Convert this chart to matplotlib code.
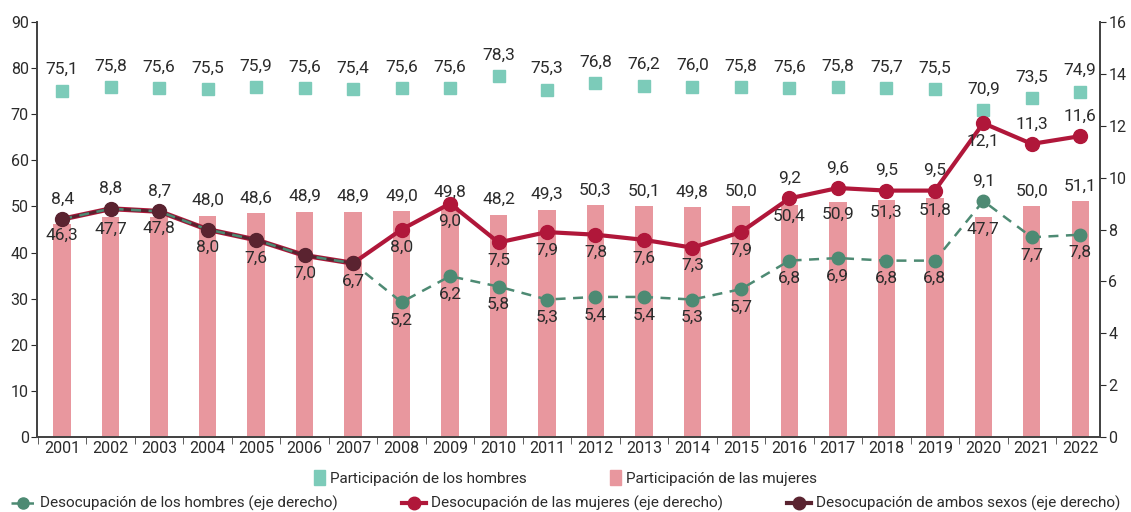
import matplotlib
matplotlib.use("Agg")
import matplotlib.pyplot as plt
from matplotlib.lines import Line2D
from matplotlib.patches import Patch
import numpy as np

plt.rcParams['font.family'] = ['Roboto', 'DejaVu Sans']

years = [str(y) for y in range(2001, 2023)]

part_mujeres = [46.3, 47.7, 47.8, 48.0, 48.6, 48.9, 48.9, 49.0, 49.8, 48.2, 49.3,
                50.3, 50.1, 49.8, 50.0, 50.4, 50.9, 51.3, 51.8, 47.7, 50.0, 51.1]
part_hombres = [75.1, 75.8, 75.6, 75.5, 75.9, 75.6, 75.4, 75.6, 75.6, 78.3, 75.3,
                76.8, 76.2, 76.0, 75.8, 75.6, 75.8, 75.7, 75.5, 70.9, 73.5, 74.9]
# 2001-2007: only total unemployment available
desoc_ambos = [8.4, 8.8, 8.7, 8.0, 7.6, 7.0, 6.7]
desoc_mujeres = [8.0, 9.0, 7.5, 7.9, 7.8, 7.6, 7.3, 7.9, 9.2, 9.6, 9.5, 9.5, 12.1, 11.3, 11.6]
desoc_hombres = [5.2, 6.2, 5.8, 5.3, 5.4, 5.4, 5.3, 5.7, 6.8, 6.9, 6.8, 6.8, 9.1, 7.7, 7.8]

# colours
c_bar = '#e8979e'
c_sq = '#7ccbb9'
c_red = '#b0173a'
c_green = '#4d8a73'
c_maroon = '#5a2330'
c_text = '#2b2b2b'


def fmt(v):
    return f"{v:.1f}".replace('.', ',')


x = np.arange(len(years))
n_a = len(desoc_ambos)
x_sex = x[n_a - 1:]
muj_line = [desoc_ambos[-1]] + desoc_mujeres

fig = plt.figure(figsize=(11.31, 5.12), dpi=100)
ax = fig.add_axes([0.0327, 0.1465, 0.94, 0.8105])
ax2 = ax.twinx()

ax.bar(x, part_mujeres, width=0.36, color=c_bar, zorder=1)
ax.plot(x, part_hombres, 's', color=c_sq, markersize=9, zorder=2)

ax2.plot(x[:n_a], desoc_ambos, '-', color=c_red, lw=3.6, zorder=3)
ax2.plot(x_sex, muj_line, '-o', color=c_red, lw=3, markersize=10, zorder=3)
ax2.plot(x[:n_a], desoc_ambos, '-', color=c_maroon, lw=2.2, zorder=4)
ax2.plot(list(x[:n_a]) + list(x_sex[1:]), desoc_ambos + desoc_hombres, '--o',
         color=c_green, lw=1.8, markersize=9, dashes=(4, 3), zorder=5)
ax2.plot(x[:n_a], desoc_ambos, 'o', color=c_maroon, markersize=10, zorder=6)

ax.set_ylim(0, 90)
ax2.set_ylim(0, 16)
ax.set_xlim(-0.52, 21.41)
ax.set_yticks(range(0, 91, 10))
ax2.set_yticks(range(0, 17, 2))

ax.set_xticks(x)
ax.set_xticklabels(years)
ax.set_xticks(x - 0.5, minor=True)
ax.tick_params(axis='x', which='major', length=0, pad=3, labelsize=11.5, colors=c_text)
ax.tick_params(axis='x', which='minor', length=5, direction='out', color='#444444')
ax.tick_params(axis='y', length=4, pad=2, labelsize=11.5, colors=c_text)
ax2.tick_params(axis='y', length=4, pad=2, labelsize=11.5, colors=c_text)

for a in (ax, ax2):
    a.spines['top'].set_visible(False)
    for s in ('left', 'right', 'bottom'):
        a.spines[s].set_color('#444444')
        a.spines[s].set_linewidth(1.3)

lab = dict(ha='center', va='center', fontsize=12.5, color=c_text,
           textcoords='offset pixels', zorder=10)

# bar labels: 'in' just under the top of the bar, 'up' above it
bar_pos = ['in'] * 3 + ['up'] * 12 + ['in'] * 5 + ['up'] * 2
for i, v in enumerate(part_mujeres):
    dy = 15 if bar_pos[i] == 'up' else -12
    ax.annotate(fmt(v), (x[i], v), xytext=(0, dy), **lab)

for i, v in enumerate(part_hombres):
    ax.annotate(fmt(v), (x[i], v), xytext=(0, 21), **lab)

amb_pos = ['up'] * 3 + ['dn'] * 4
muj_pos = ['dn'] * 8 + ['up'] * 4 + ['dn'] + ['up'] * 2
hom_pos = ['dn'] * 12 + ['up'] + ['dn'] * 2


def put(vals, xs, pos):
    for xi, v, p in zip(xs, vals, pos):
        dy = 20 if p == 'up' else -18
        ax2.annotate(fmt(v), (xi, v), xytext=(0, dy), **lab)


put(desoc_ambos, x[:n_a], amb_pos)
put(desoc_mujeres, x_sex[1:], muj_pos)
put(desoc_hombres, x_sex[1:], hom_pos)

leg_kw = dict(frameon=False, fontsize=11, handletextpad=0.3, labelcolor=c_text)
h1 = [Patch(color=c_sq), Patch(color=c_bar)]
fig.legend(h1, ['Participación de los hombres', 'Participación de las mujeres'],
           loc='center', bbox_to_anchor=(0.5, 0.067), ncol=2, columnspacing=5.5,
           handlelength=0.7, handleheight=1.2, **leg_kw)

h2 = [Line2D([], [], color=c_green, lw=1.8, ls='--', marker='o', markersize=8),
      Line2D([], [], color=c_red, lw=3, marker='o', markersize=9),
      Line2D([], [], color=c_maroon, lw=3, marker='o', markersize=9)]
fig.legend(h2, ['Desocupación de los hombres (eje derecho)',
                'Desocupación de las mujeres (eje derecho)',
                'Desocupación de ambos sexos (eje derecho)'],
           loc='center', bbox_to_anchor=(0.5, 0.016), ncol=3, columnspacing=4.2,
           handlelength=1.6, **leg_kw)

fig.savefig('out.png', dpi=100)
